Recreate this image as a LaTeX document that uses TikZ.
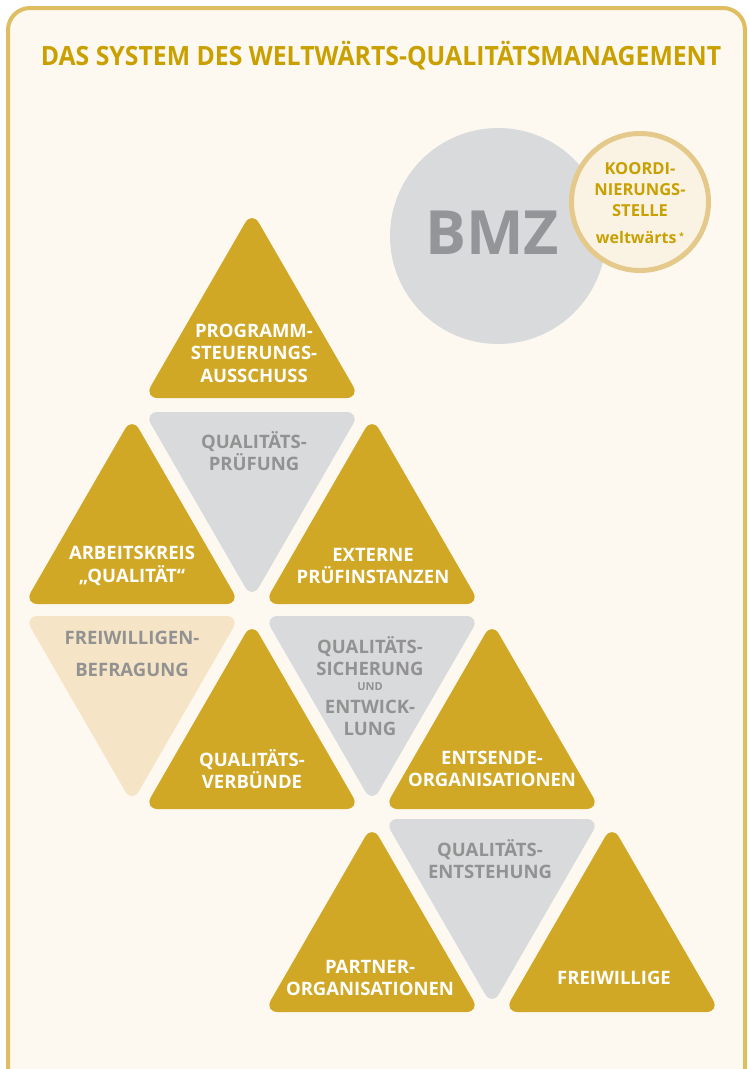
\documentclass[tikz,border=0pt]{standalone}
\usepackage{fontspec}
\setmainfont{Open Sans}
\definecolor{paper}{HTML}{FDF9F1}
\definecolor{frame}{HTML}{DFBE62}
\definecolor{titlegold}{HTML}{C9A000}
\definecolor{trigold}{HTML}{D1A826}
\definecolor{trigray}{HTML}{D9DADC}
\definecolor{tribeige}{HTML}{F5E4C5}
\definecolor{txtgray}{HTML}{929292}
\definecolor{bmzgray}{HTML}{939598}
\definecolor{koordring}{HTML}{E5C98B}
\definecolor{koordfill}{HTML}{FAF3E4}
% equilateral tiles: centre x, base (or top) y, fill colour
\newcommand{\uptri}[3]{\fill[#3,rounded corners=14pt] (#1,#2) -- (#1+108,#2) -- (#1,#2-187.1) -- (#1-108,#2) -- cycle;}
\newcommand{\dntri}[3]{\fill[#3,rounded corners=14pt] (#1,#2) -- (#1+108,#2) -- (#1,#2+187.1) -- (#1-108,#2) -- cycle;}
\begin{document}
\begin{tikzpicture}[x=1pt,y=-1pt,
  lbl/.style={font=\bfseries\fontsize{18.5}{22.5}\selectfont, align=center, inner sep=0pt},
  wlbl/.style={lbl, text=white},
  glbl/.style={lbl, text=txtgray},
  headline/.style={font=\bfseries\fontsize{26.5}{30}\selectfont, text=titlegold, inner sep=0pt},
  klbl/.style={font=\bfseries\fontsize{16.5}{21}\selectfont, align=center, text=titlegold, inner sep=0pt}]
\useasboundingbox (0,0) rectangle (748,1069);
\fill[white] (0,0) rectangle (748,1069);
\begin{scope}
  \clip (0,0) rectangle (748,1069);
  \draw[line width=4pt, draw=frame, fill=paper, rounded corners=22pt] (8,8) rectangle (745,1110);
\end{scope}

\node[headline] (title) at (381,56) {\scalebox{0.935}[1]{DAS SYSTEM DES WELTWÄRTS-QUALITÄTSMANAGEMENT}};

% BMZ and coordination office
\node[circle, fill=trigray, minimum size=216pt, inner sep=0pt] (bmzdisc) at (498,236) {};
\node[font=\bfseries\fontsize{61}{65}\selectfont, text=bmzgray, inner sep=0pt] (bmz) at (492,233) {BMZ};
\node[circle, draw=koordring, line width=5pt, fill=koordfill, minimum size=137pt, inner sep=0pt] (koord) at (640,202) {};
\node[klbl] (koordtxt) at (640,190) {KOORDI-\\NIERUNGS-\\STELLE};
\node[klbl, font=\bfseries\fontsize{16}{20}\selectfont] (ww) at (640,237) {weltwärts\,\raisebox{4pt}{\fontsize{9}{9}\selectfont *}};

% tiles
\uptri{252}{398}{trigold}
\dntri{252}{412}{trigray}
\uptri{132}{604}{trigold}
\uptri{372}{604}{trigold}
\dntri{132}{616}{tribeige}
\dntri{372}{616}{trigray}
\uptri{252}{809}{trigold}
\uptri{492}{809}{trigold}
\dntri{492}{819}{trigray}
\uptri{372}{1012}{trigold}
\uptri{612}{1012}{trigold}

% labels
\node[wlbl] (psa) at (254,353) {PROGRAMM-\\STEUERUNGS-\\AUSSCHUSS};
\node[glbl] (qp) at (254,451) {QUALITÄTS-\\PRÜFUNG};
\node[wlbl] (ak) at (132,566) {ARBEITSKREIS\\„QUALITÄT“};
\node[wlbl] (ext) at (373,566) {EXTERNE\\PRÜFINSTANZEN};
\node[glbl] (fb) at (132,654) {FREIWILLIGEN-\\[9pt]BEFRAGUNG};
\node[wlbl] (qv) at (252,769) {QUALITÄTS-\\VERBÜNDE};
\node[glbl] (qs1) at (370,656) {QUALITÄTS-\\SICHERUNG};
\node[glbl, font=\bfseries\fontsize{11}{13}\selectfont] (qsund) at (370,687) {UND};
\node[glbl] (qs2) at (370,718) {ENTWICK-\\LUNG};
\node[wlbl] (eo) at (492,769) {ENTSENDE-\\ORGANISATIONEN};
\node[glbl] (qe) at (490,859) {QUALITÄTS-\\ENTSTEHUNG};
\node[wlbl] (po) at (370,978) {PARTNER-\\ORGANISATIONEN};
\node[wlbl] (fw) at (614,978) {FREIWILLIGE};
\end{tikzpicture}
\end{document}
